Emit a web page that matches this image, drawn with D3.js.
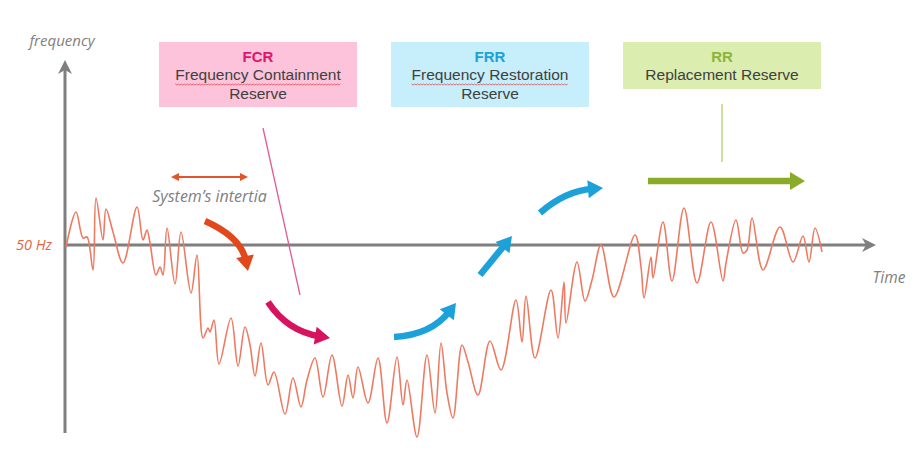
<!DOCTYPE html>
<html>
<head>
<meta charset="utf-8">
<script src="https://cdnjs.cloudflare.com/ajax/libs/d3/7.8.5/d3.min.js"></script>
<style>
	body {margin: 0; background: #fff;}
	svg {display: block;}
</style>
</head>
<body>
<div id="chart"></div>
<script>
// time (s) and frequency deviation from 50 Hz (mHz)
var time = [1,11,18,22,28,31,38,41,48,58,72,78,82,85,91,95,98,102,110,116,126,132,138,143,145,149,154,166,173,180,185,190,196,203,209,220,228,236,242,250,258,267,277,283,288,293,303,313,322,332,338,342,352,362,370,376,382,388,397,403,413,425,436,451,457,461,470,486,493,499,501,512,520,527,536,549,570,576,579,586,588,598,607,619,632,646,658,661,671,678,682,687,698,715,728,738,744,750,757];
var deviation = [-2,33,7,8,-25,47,5,36,13,-18,38,5,15,2,-30,-22,-30,17,-39,13,-48,-10,-93,-83,-87,-75,-119,-73,-121,-82,-100,-131,-98,-140,-127,-169,-133,-162,-135,-113,-152,-110,-161,-130,-153,-122,-158,-113,-178,-112,-160,-135,-192,-110,-168,-98,-148,-173,-100,-117,-150,-96,-125,-55,-97,-51,-113,-45,-93,-37,-78,-17,-56,-35,0,-52,10,-22,-53,-12,-33,23,-36,37,-38,23,-36,-18,25,-8,-5,27,-25,18,-17,9,-17,17,-7];

// reserve boxes
var reserveCodes = ['FCR', 'FRR', 'RR'];
var reserveNames = [['Frequency Containment', 'Reserve'], ['Frequency Restoration', 'Reserve'], ['Replacement Reserve']];
var reserveColors = ['#e2136c', '#1ca2d9', '#8db53c'];
var boxFills = ['#fcc3da', '#c6eefb', '#dbedaf'];

// annotation arrows, in (time, deviation) units
var arrows = [
	{from: [140, 24], via: [176, 8], to: [183, -26], color: '#e2481c'},
	{from: [203, -57], via: [222, -86], to: [265, -93], color: '#d8135e'},
	{from: [329, -92], via: [366, -90], to: [391, -58], color: '#1ca2d9'},
	{from: [415, -30], to: [447, 9], color: '#1ca2d9'},
	{from: [475, 32], via: [500, 54], to: [538, 57], color: '#1ca2d9'},
	{from: [583, 64], to: [740, 64], color: '#8aab27'}
];
var inertia = [106, 183];
var fcrPointer = [[198, 117], [235, -50]];
var rrPointer = [[657, 141], [657, 83]];

var width = 918, height = 456;

var svg = d3.select('#chart').append('svg')
	.attr('width', width)
	.attr('height', height);

var x = d3.scaleLinear().domain([0, 811]).range([65, 876]);
var y = d3.scaleLinear().domain([-188, 185]).range([433, 60]);

var axisColor = '#7f7f7f';
var italic = '"Open Sans", sans-serif';

// axes
svg.append('line')
	.attr('x1', x(0)).attr('x2', x(0))
	.attr('y1', y(-188)).attr('y2', y(185) + 10)
	.style('stroke', axisColor).style('stroke-width', 3);
svg.append('path')
	.attr('d', 'M' + x(0) + ',' + y(185) + 'l-7,14l7,-4l7,4z')
	.style('fill', axisColor);
svg.append('line')
	.attr('x1', x(0)).attr('x2', x(811) - 10)
	.attr('y1', y(0)).attr('y2', y(0))
	.style('stroke', axisColor).style('stroke-width', 3);
svg.append('path')
	.attr('d', 'M' + x(811) + ',' + y(0) + 'l-14,-7l4,7l-4,7z')
	.style('fill', axisColor);

// axis labels
svg.append('text')
	.attr('x', 62).attr('y', 46)
	.attr('text-anchor', 'middle')
	.style('font-family', italic).style('font-style', 'italic').style('font-size', '15px')
	.style('fill', '#808080')
	.text('frequency');
svg.append('text')
	.attr('x', 889).attr('y', 283)
	.attr('text-anchor', 'middle')
	.style('font-family', italic).style('font-style', 'italic').style('font-size', '15.5px')
	.style('fill', '#808080')
	.text('Time');
svg.append('text')
	.attr('x', 34).attr('y', y(0) + 5)
	.attr('text-anchor', 'middle')
	.style('font-family', italic).style('font-style', 'italic').style('font-size', '14.5px')
	.style('fill', '#e8653f')
	.text('50 Hz');

// the frequency signal
var points = time.map(function(t, i) {return [t, deviation[i]];});
var line = d3.line()
	.x(function(d) {return x(d[0]);})
	.y(function(d) {return y(d[1]);})
	.curve(d3.curveCatmullRom.alpha(0.5));

svg.append('path')
	.datum(points)
	.attr('d', line)
	.style('fill', 'none')
	.style('stroke', '#ee7a62')
	.style('stroke-width', 1.6)
	.style('stroke-linejoin', 'round');

// boxes
var boxX = [159, 391, 623], boxW = 198, boxH = [65, 65, 47], boxTop = 42;
var boxes = svg.selectAll('.box')
	.data(reserveCodes)
	.enter().append('g')
		.attr('class', 'box')
		.attr('transform', function(d, i) {return 'translate(' + boxX[i] + ',' + boxTop + ')';});

boxes.append('rect')
	.attr('width', boxW)
	.attr('height', function(d, i) {return boxH[i];})
	.style('fill', function(d, i) {return boxFills[i];});

boxes.append('text')
	.attr('x', boxW / 2).attr('y', 20)
	.attr('text-anchor', 'middle')
	.style('font', 'bold 15px "Liberation Sans", Arial, sans-serif')
	.style('fill', function(d, i) {return reserveColors[i];})
	.text(function(d) {return d;});

boxes.each(function(d, i) {
	var g = d3.select(this);
	reserveNames[i].forEach(function(name, j) {
		var t = g.append('text')
			.attr('x', boxW / 2).attr('y', 38 + j * 19)
			.attr('text-anchor', 'middle')
			.style('font', '15.5px "Liberation Sans", Arial, sans-serif')
			.style('fill', '#404040')
			.text(name);
		// spell-check squiggle under the two-word names
		if (reserveNames[i].length > 1 && j === 0) {
			var w = t.node().getComputedTextLength();
			var x0 = boxW / 2 - w / 2, pts = [];
			for (var k = 0; k <= w; k += 1.5) {pts.push([x0 + k, 42 + (Math.round(k / 1.5) % 2 ? 1 : 0)]);}
			g.append('path')
				.attr('d', d3.line()(pts))
				.style('fill', 'none')
				.style('stroke', '#e0454a')
				.style('stroke-width', 0.9)
				.style('opacity', 0.85);
		}
	});
});

// pointer lines
svg.append('line')
	.attr('x1', x(fcrPointer[0][0])).attr('y1', y(fcrPointer[0][1]))
	.attr('x2', x(fcrPointer[1][0])).attr('y2', y(fcrPointer[1][1]))
	.style('stroke', '#e25a92').style('stroke-width', 1.3);
svg.append('line')
	.attr('x1', x(rrPointer[0][0])).attr('y1', y(rrPointer[0][1]))
	.attr('x2', x(rrPointer[1][0])).attr('y2', y(rrPointer[1][1]))
	.style('stroke', '#bcd77a').style('stroke-width', 1.5);

// system's inertia
var iy = y(68);
svg.append('line')
	.attr('x1', x(inertia[0]) + 6).attr('x2', x(inertia[1]) - 6)
	.attr('y1', iy).attr('y2', iy)
	.style('stroke', '#e2542a').style('stroke-width', 2.2);
svg.append('path')
	.attr('d', 'M' + x(inertia[0]) + ',' + iy + 'l8,-4l0,8z M' + x(inertia[1]) + ',' + iy + 'l-8,-4l0,8z')
	.style('fill', '#e2542a');
svg.append('text')
	.attr('x', (x(inertia[0]) + x(inertia[1])) / 2).attr('y', 202)
	.attr('text-anchor', 'middle')
	.style('font-family', italic).style('font-style', 'italic').style('font-size', '16px')
	.style('fill', '#808080')
	.text('System\u2019s intertia');

// thick arrows
arrows.forEach(function(a) {
	var p0 = [x(a.from[0]), y(a.from[1])], p2 = [x(a.to[0]), y(a.to[1])];
	var p1 = a.via ? [x(a.via[0]), y(a.via[1])] : [(p0[0] + p2[0]) / 2, (p0[1] + p2[1]) / 2];
	var dx = p2[0] - p1[0], dy = p2[1] - p1[1], len = Math.sqrt(dx * dx + dy * dy);
	var ux = dx / len, uy = dy / len, nx = -uy, ny = ux;
	var L = 15, W = 9;
	var base = [p2[0] - ux * L, p2[1] - uy * L];
	var end = [p2[0] - ux * L * 0.7, p2[1] - uy * L * 0.7];
	svg.append('path')
		.attr('d', 'M' + p0 + 'Q' + p1 + ' ' + end)
		.style('fill', 'none')
		.style('stroke', a.color)
		.style('stroke-width', 6.5);
	svg.append('path')
		.attr('d', 'M' + p2 + 'L' + [base[0] + nx * W, base[1] + ny * W] + 'L' + [base[0] - nx * W, base[1] - ny * W] + 'Z')
		.style('fill', a.color);
});
</script>
</body>
</html>
